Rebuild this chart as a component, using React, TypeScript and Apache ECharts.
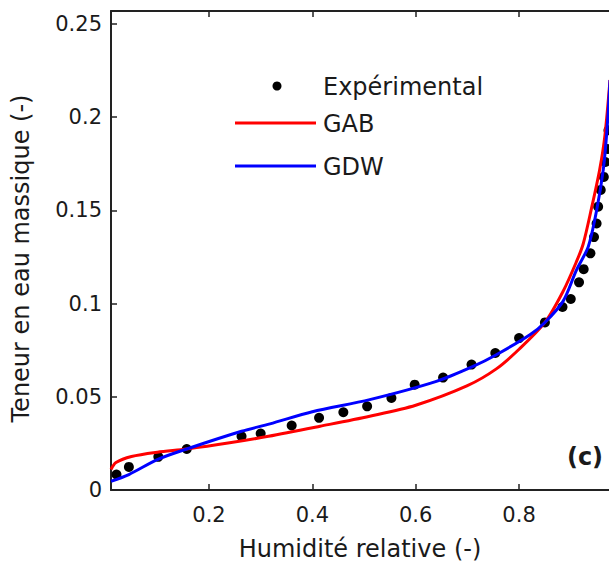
import React, { useEffect, useRef } from "react";
import * as echarts from "echarts";

// Experimental points (relative humidity, moisture content)
const expX = [0.021, 0.045, 0.102, 0.157, 0.263, 0.3, 0.36, 0.413, 0.46, 0.506, 0.553, 0.598, 0.653, 0.708, 0.754, 0.8, 0.85, 0.884, 0.9, 0.916, 0.925, 0.938, 0.945, 0.95, 0.953, 0.958, 0.964, 0.967, 0.971, 0.973];
const expY = [0.0083, 0.0124, 0.0178, 0.022, 0.0288, 0.0303, 0.0346, 0.0387, 0.0417, 0.0449, 0.0494, 0.0565, 0.0603, 0.0673, 0.0735, 0.0815, 0.0899, 0.0982, 0.1025, 0.1114, 0.1185, 0.127, 0.1357, 0.143, 0.152, 0.161, 0.168, 0.176, 0.183, 0.193];

// GAB model curve
const gabX = [0.0104, 0.02, 0.05, 0.1, 0.157, 0.24, 0.315, 0.415, 0.511, 0.6, 0.7, 0.756, 0.8, 0.85, 0.885, 0.911, 0.924, 0.94, 0.956, 0.966, 0.976];
const gabY = [0.011, 0.0147, 0.018, 0.0203, 0.022, 0.0253, 0.0288, 0.0342, 0.0396, 0.0455, 0.056, 0.065, 0.0755, 0.0899, 0.1065, 0.1225, 0.132, 0.151, 0.172, 0.19, 0.22];

// GDW model curve
const gdwX = [0.0104, 0.045, 0.1, 0.157, 0.263, 0.318, 0.4, 0.511, 0.64, 0.711, 0.756, 0.821, 0.85, 0.885, 0.911, 0.934, 0.95, 0.963, 0.97, 0.976];
const gdwY = [0.0047, 0.0083, 0.0163, 0.022, 0.0315, 0.0355, 0.042, 0.0485, 0.0583, 0.0663, 0.0726, 0.0833, 0.0899, 0.1012, 0.118, 0.1307, 0.15, 0.172, 0.193, 0.22];

const xTicks = [0.2, 0.4, 0.6, 0.8];
const yTicks = [0, 0.05, 0.1, 0.15, 0.2, 0.25];

const X_MIN = 0.0104;
const X_MAX = 0.974;
const Y_MIN = 0;
const Y_MAX = 0.257;

const FONT = "DejaVu Sans";
const TXT = "#1a1a1a";

export default function App() {
  const ref = useRef<HTMLDivElement>(null);
  useEffect(() => {
    if (!ref.current) return;
    const chart = echarts.init(ref.current, undefined, { renderer: "svg" });
    const zip = (xs: number[], ys: number[]) => xs.map((x, i) => [x, ys[i]]);
    const axisLine = { show: true, lineStyle: { color: "#222", width: 2 } };
    chart.setOption({
      animation: false,
      backgroundColor: "#fff",
      grid: { left: 111, top: 11, right: 0, bottom: 75 },
      xAxis: [
        {
          type: "value",
          min: X_MIN,
          max: X_MAX,
          name: "Humidité relative (-)",
          nameLocation: "middle",
          nameGap: 47,
          nameTextStyle: { fontFamily: FONT, fontSize: 24, color: TXT },
          axisLine,
          axisTick: { show: true, inside: true, length: 6, lineStyle: { color: "#222", width: 1.5 }, customValues: xTicks },
          axisLabel: { fontFamily: FONT, fontSize: 21, color: TXT, margin: 14, customValues: xTicks },
          splitLine: { show: false },
        },
        {
          type: "value",
          position: "top",
          min: X_MIN,
          max: X_MAX,
          axisLine,
          axisTick: { show: true, inside: true, length: 6, lineStyle: { color: "#222", width: 1.5 }, customValues: xTicks },
          axisLabel: { show: false },
          splitLine: { show: false },
        },
      ],
      yAxis: {
        type: "value",
        min: Y_MIN,
        max: Y_MAX,
        name: "Teneur en eau massique (-)",
        nameLocation: "middle",
        nameGap: 78,
        nameTextStyle: { fontFamily: FONT, fontSize: 24, color: TXT, padding: [0, 16, 0, 0] },
        axisLine,
        axisTick: { show: true, inside: true, length: 6, lineStyle: { color: "#222", width: 1.5 }, customValues: yTicks },
        axisLabel: { fontFamily: FONT, fontSize: 21, color: TXT, margin: 9, customValues: yTicks },
        splitLine: { show: false },
      },
      series: [
        {
          name: "Expérimental",
          type: "scatter",
          data: zip(expX, expY),
          symbol: "circle",
          symbolSize: 10,
          itemStyle: { color: "#000", opacity: 1 },
          z: 2,
        },
        {
          name: "GAB",
          type: "line",
          data: zip(gabX, gabY),
          showSymbol: false,
          smooth: 0.3,
          lineStyle: { color: "#ff0000", width: 3 },
          z: 3,
        },
        {
          name: "GDW",
          type: "line",
          data: zip(gdwX, gdwY),
          showSymbol: false,
          smooth: 0.3,
          lineStyle: { color: "#0000ff", width: 3 },
          z: 4,
        },
      ],
      graphic: [
        { type: "circle", shape: { cx: 277, cy: 86, r: 4.5 }, style: { fill: "#000" } },
        { type: "text", x: 323, y: 87, style: { text: "Expérimental", fontFamily: FONT, fontSize: 24, fill: TXT, verticalAlign: "middle" } },
        { type: "line", shape: { x1: 235, y1: 123, x2: 316, y2: 123 }, style: { stroke: "#ff0000", lineWidth: 3 } },
        { type: "text", x: 323, y: 124, style: { text: "GAB", fontFamily: FONT, fontSize: 24, fill: TXT, verticalAlign: "middle" } },
        { type: "line", shape: { x1: 235, y1: 166, x2: 316, y2: 166 }, style: { stroke: "#0000ff", lineWidth: 3 } },
        { type: "text", x: 323, y: 167, style: { text: "GDW", fontFamily: FONT, fontSize: 24, fill: TXT, verticalAlign: "middle" } },
        { type: "text", x: 585, y: 457, style: { text: "(c)", fontFamily: FONT, fontSize: 24, fontWeight: "bold", fill: TXT, align: "center", verticalAlign: "middle" } },
      ],
    });
    return () => chart.dispose();
  }, []);
  return <div ref={ref} style={{ position: "absolute", left: 0, top: 0, width: 609, height: 566 }} />;
}
